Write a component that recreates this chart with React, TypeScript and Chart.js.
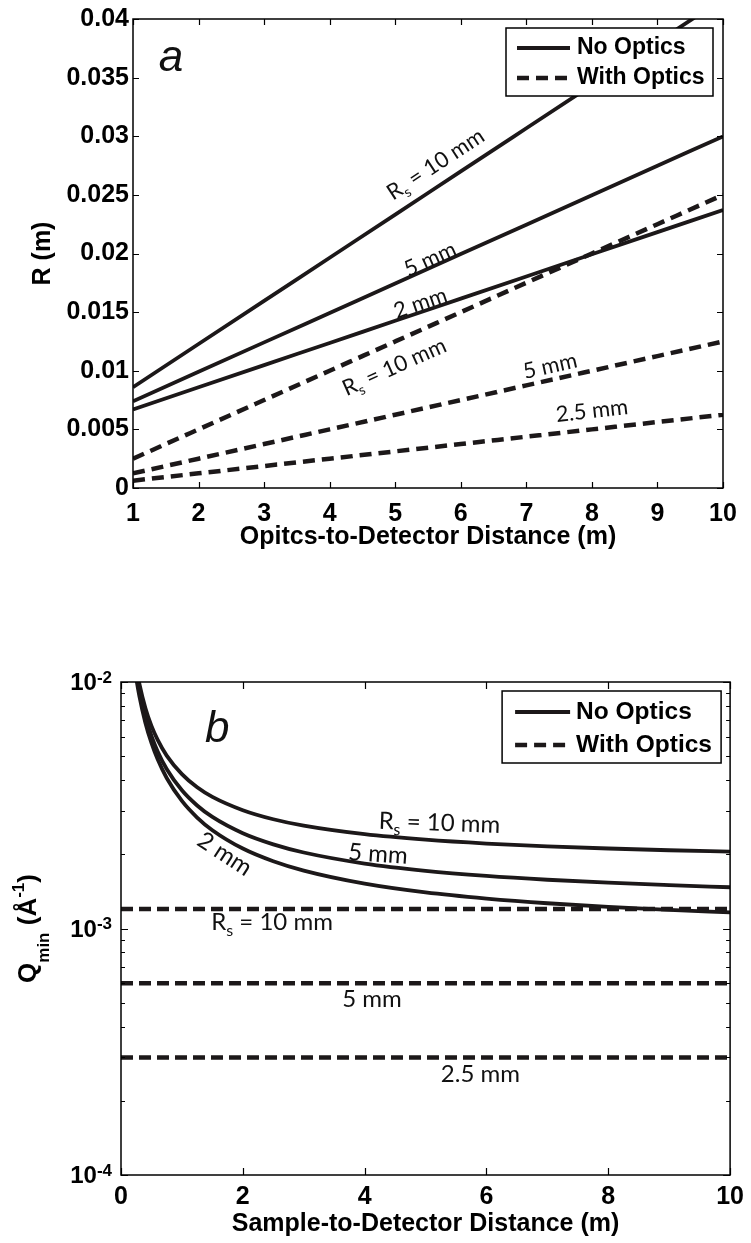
import React, { useEffect, useRef } from 'react';
import { Chart, registerables } from 'chart.js';

Chart.register(...registerables);

// ---------------- Panel a: R vs optics-to-detector distance ----------------
const aDistance = [1, 2, 3, 4, 5, 6, 7, 8, 9, 10];
const aNoOptics10 = [0.0086, 0.01228, 0.01596, 0.01964, 0.02332, 0.027, 0.03068, 0.03436, 0.03804, 0.04172];
const aNoOptics5 = [0.0074, 0.00991, 0.01242, 0.01493, 0.01744, 0.01995, 0.02246, 0.02497, 0.02748, 0.02999];
const aNoOptics2 = [0.0067, 0.00859, 0.01048, 0.01237, 0.01426, 0.01615, 0.01804, 0.01993, 0.02182, 0.02371];
const aOptics10 = [0.0025, 0.005, 0.0075, 0.01, 0.0125, 0.015, 0.0175, 0.02, 0.0225, 0.025];
const aOptics5 = [0.00125, 0.0025, 0.00375, 0.005, 0.00625, 0.0075, 0.00875, 0.01, 0.01125, 0.0125];
const aOptics25 = [0.000625, 0.00125, 0.001875, 0.0025, 0.003125, 0.00375, 0.004375, 0.005, 0.005625, 0.00625];
const aXTicks = [1, 2, 3, 4, 5, 6, 7, 8, 9, 10];
const aYTicks = [0, 0.005, 0.01, 0.015, 0.02, 0.025, 0.03, 0.035, 0.04];

// ---------------- Panel b: Qmin vs sample-to-detector distance ----------------
const bDistance = [0.2, 0.25, 0.3, 0.4, 0.5, 0.6, 0.75, 1, 1.25, 1.5, 2, 2.5, 3, 4, 5, 6, 7, 8, 9, 10];
const bNoOptics10 = [0.0139, 0.01148, 0.00987, 0.00785, 0.00664, 0.00584, 0.00503, 0.00423, 0.00374, 0.00342, 0.00302, 0.002775, 0.002614, 0.002413, 0.002292, 0.002211, 0.002154, 0.002111, 0.002077, 0.00205];
const bNoOptics5 = [0.01325, 0.01085, 0.00924, 0.00724, 0.00604, 0.00524, 0.00444, 0.003636, 0.003156, 0.002835, 0.002435, 0.002195, 0.002034, 0.001834, 0.001714, 0.001634, 0.001577, 0.001534, 0.0015, 0.00147];
const bNoOptics2 = [0.01275, 0.01038, 0.00881, 0.00684, 0.005656, 0.004868, 0.00408, 0.003292, 0.00282, 0.002505, 0.00211, 0.001874, 0.001717, 0.00152, 0.001401, 0.001323, 0.001266, 0.001224, 0.001191, 0.001162];
const bFlatDistance = [0, 10];
const bOptics10 = [0.0012, 0.0012];
const bOptics5 = [0.0006, 0.0006];
const bOptics25 = [0.0003, 0.0003];
const bXTicks = [0, 2, 4, 6, 8, 10];
const bYTicks = [1e-4, 1e-3, 1e-2];
const bYMinorMantissa = [2, 3, 4, 5, 6, 7, 8, 9];

const legendLabels = ['No Optics', 'With Optics'];

// ---------------- styles ----------------
const INK = '#1c1819';
const AX = "'Liberation Sans', Arial, Helvetica, sans-serif";
const NOTE = "Lato, 'Open Sans', 'Noto Sans', sans-serif";

type Part = { t: string; sub?: boolean; sup?: boolean };
type Note = { parts: Part[]; x: number; y: number; follow?: number; angle?: number; size: number };

const RS10: Part[] = [{ t: 'R' }, { t: 's', sub: true }, { t: ' = 10 mm' }];

const aNotes: Note[] = [
  { parts: RS10, x: 5.61, y: 0.02766, follow: 0, size: 22 },
  { parts: [{ t: '5 mm' }], x: 5.53, y: 0.01957, follow: 1, size: 22 },
  { parts: [{ t: '2 mm' }], x: 5.38, y: 0.01583, follow: 2, size: 22 },
  { parts: RS10, x: 4.98, y: 0.01038, follow: 3, size: 22 },
  { parts: [{ t: '5 mm' }], x: 7.36, y: 0.01047, follow: 4, size: 22 },
  { parts: [{ t: '2.5 mm' }], x: 8.0, y: 0.00664, follow: 5, size: 22 },
];

const bNotes: Note[] = [
  { parts: RS10, x: 5.23, y: 0.0027, angle: 2, size: 24 },
  { parts: [{ t: '5 mm' }], x: 4.22, y: 0.00202, angle: 4, size: 24 },
  { parts: [{ t: '2 mm' }], x: 1.71, y: 0.00202, angle: 33, size: 24 },
  { parts: RS10, x: 2.48, y: 0.00107, angle: 0, size: 24 },
  { parts: [{ t: '5 mm' }], x: 4.12, y: 0.000522, angle: 0, size: 24 },
  { parts: [{ t: '2.5 mm' }], x: 5.9, y: 0.000259, angle: 0, size: 24 },
];

function partSize(p: Part, size: number) {
  return p.sub || p.sup ? Math.round(size * 0.65) : size;
}
function richWidth(ctx: CanvasRenderingContext2D, parts: Part[], size: number, weight: string, fam: string) {
  let w = 0;
  for (const p of parts) {
    ctx.font = `${weight} ${partSize(p, size)}px ${fam}`;
    w += ctx.measureText(p.t).width;
  }
  return w;
}
function drawRich(
  ctx: CanvasRenderingContext2D, parts: Part[], x: number, y: number, size: number,
  weight: string, fam: string, subDy: number, supDy: number
) {
  let cx = x;
  ctx.textBaseline = 'alphabetic';
  ctx.textAlign = 'left';
  for (const p of parts) {
    ctx.font = `${weight} ${partSize(p, size)}px ${fam}`;
    const dy = p.sub ? size * subDy : p.sup ? -size * supDy : 0;
    ctx.fillText(p.t, cx, y + dy);
    cx += ctx.measureText(p.t).width;
  }
}

type LegendCfg = { w: number; h: number; dx: number; dy: number; rows: number[]; lx0: number; lx1: number; tx: number; size: number; dash: number[] };

type Decor = {
  notes: Note[];
  legend: LegendCfg;
  letter: { t: string; x: number; y: number };
  xTicks: number[];
  yTicks: number[];
  yMinor?: number[];
  tickLen: number;
  minorLen: number;
  logLabels?: boolean;
  qTitle?: boolean;
};

function decorPlugin(d: Decor) {
  return {
    id: 'decor',
    afterDraw(chart: any) {
      const { ctx, chartArea: a, scales } = chart;
      const xs = scales.x;
      const ys = scales.y;
      ctx.save();

      // inward tick marks
      ctx.strokeStyle = '#000';
      ctx.lineWidth = 1.2;
      ctx.beginPath();
      d.xTicks.forEach((v) => {
        const px = Math.round(xs.getPixelForValue(v)) + 0.5;
        ctx.moveTo(px, a.bottom); ctx.lineTo(px, a.bottom - d.tickLen);
        ctx.moveTo(px, a.top); ctx.lineTo(px, a.top + d.tickLen);
      });
      d.yTicks.forEach((v) => {
        const py = Math.round(ys.getPixelForValue(v)) + 0.5;
        ctx.moveTo(a.left, py); ctx.lineTo(a.left + d.tickLen, py);
        ctx.moveTo(a.right, py); ctx.lineTo(a.right - d.tickLen, py);
      });
      (d.yMinor || []).forEach((v) => {
        const py = Math.round(ys.getPixelForValue(v)) + 0.5;
        ctx.moveTo(a.left, py); ctx.lineTo(a.left + d.minorLen, py);
        ctx.moveTo(a.right, py); ctx.lineTo(a.right - d.minorLen, py);
      });
      ctx.stroke();

      // frame
      ctx.lineWidth = 1.5;
      ctx.strokeRect(a.left, a.top, a.right - a.left, a.bottom - a.top);

      // line annotations
      ctx.fillStyle = '#111';
      d.notes.forEach((n) => {
        let ang = ((n.angle ?? 0) * Math.PI) / 180;
        if (n.follow !== undefined) {
          const data = chart.data.datasets[n.follow].data;
          const p0 = data[0];
          const p1 = data[data.length - 1];
          ang = Math.atan2(
            ys.getPixelForValue(p1.y) - ys.getPixelForValue(p0.y),
            xs.getPixelForValue(p1.x) - xs.getPixelForValue(p0.x)
          );
        }
        const px = xs.getPixelForValue(n.x);
        const py = ys.getPixelForValue(n.y);
        ctx.save();
        ctx.translate(px, py);
        ctx.rotate(ang);
        const w = richWidth(ctx, n.parts, n.size, 'normal', NOTE);
        drawRich(ctx, n.parts, -w / 2, n.size * 0.36, n.size, 'normal', NOTE, 0.24, 0.4);
        ctx.restore();
      });

      // panel letter
      ctx.fillStyle = '#111';
      ctx.font = `italic 44px ${AX}`;
      ctx.textAlign = 'center';
      ctx.textBaseline = 'alphabetic';
      ctx.fillText(d.letter.t, xs.getPixelForValue(d.letter.x), ys.getPixelForValue(d.letter.y));

      // legend
      const L = d.legend;
      const left = a.right - L.dx - L.w;
      const top = a.top + L.dy;
      ctx.fillStyle = '#fff';
      ctx.fillRect(left, top, L.w, L.h);
      ctx.strokeStyle = '#000';
      ctx.lineWidth = 1.5;
      ctx.strokeRect(left, top, L.w, L.h);
      legendLabels.forEach((label, i) => {
        const ry = top + L.rows[i];
        ctx.strokeStyle = INK;
        ctx.lineWidth = i === 0 ? 3.8 : 4.5;
        ctx.setLineDash(i === 0 ? [] : L.dash);
        ctx.beginPath();
        ctx.moveTo(left + L.lx0, ry);
        ctx.lineTo(left + L.lx1, ry);
        ctx.stroke();
        ctx.setLineDash([]);
        ctx.fillStyle = '#000';
        ctx.font = `bold ${L.size}px ${AX}`;
        ctx.textAlign = 'left';
        ctx.textBaseline = 'middle';
        ctx.fillText(label, left + L.tx, ry);
      });

      // log tick labels 10^n
      if (d.logLabels) {
        ctx.fillStyle = '#000';
        d.yTicks.forEach((v) => {
          const py = ys.getPixelForValue(v) + 1.5;
          const exp = String(Math.round(Math.log10(v)));
          ctx.font = `bold 17px ${AX}`;
          ctx.textAlign = 'right';
          ctx.textBaseline = 'alphabetic';
          const right = a.left - 9;
          const ew = ctx.measureText(exp).width;
          ctx.fillText(exp, right, py - 1);
          ctx.font = `bold 24px ${AX}`;
          ctx.textBaseline = 'middle';
          ctx.fillText('10', right - ew, py);
        });
      }

      // rotated y title Q_min (Å^-1)
      if (d.qTitle) {
        const parts: Part[] = [{ t: 'Q' }, { t: 'min', sub: true }, { t: ' (Å' }, { t: '-1', sup: true }, { t: ')' }];
        const cy = (a.top + a.bottom) / 2;
        ctx.save();
        ctx.translate(36, cy);
        ctx.rotate(-Math.PI / 2);
        ctx.fillStyle = '#000';
        const w = richWidth(ctx, parts, 26, 'bold', AX);
        drawRich(ctx, parts, -w / 2, 0, 26, 'bold', AX, 0.5, 0.45);
        ctx.restore();
      }

      ctx.restore();
    },
  };
}

const pts = (xs: number[], ys: number[]) => xs.map((x, i) => ({ x, y: ys[i] }));

function lineSet(data: { x: number; y: number }[], dash: number[] | null) {
  return {
    data,
    borderColor: INK,
    backgroundColor: INK,
    borderWidth: dash ? 4.5 : 3.8,
    borderDash: dash || [],
    pointRadius: 0,
    fill: false,
    clip: 0,
    cubicInterpolationMode: 'monotone' as const,
  };
}

const tickFont = { family: AX, size: 25, weight: 'bold' as const };

export default function App() {
  const refA = useRef<HTMLCanvasElement>(null);
  const refB = useRef<HTMLCanvasElement>(null);

  useEffect(() => {
    const dashA = [12, 7];
    const dashB = [12, 6];

    const chartA = new Chart(refA.current as HTMLCanvasElement, {
      type: 'line',
      data: {
        datasets: [
          lineSet(pts(aDistance, aNoOptics10), null),
          lineSet(pts(aDistance, aNoOptics5), null),
          lineSet(pts(aDistance, aNoOptics2), null),
          lineSet(pts(aDistance, aOptics10), dashA),
          lineSet(pts(aDistance, aOptics5), dashA),
          lineSet(pts(aDistance, aOptics25), dashA),
        ] as any,
      },
      options: {
        animation: false,
        responsive: false,
        maintainAspectRatio: false,
        layout: { padding: { left: 0, right: 28, top: 18, bottom: 68 } },
        plugins: { legend: { display: false }, tooltip: { enabled: false } },
        scales: {
          x: {
            type: 'linear',
            min: 1,
            max: 10,
            afterBuildTicks: (s: any) => { s.ticks = aXTicks.map((v) => ({ value: v })); },
            afterFit: (s: any) => { s.height = 64; },
            ticks: { font: tickFont, color: '#000', padding: 11, autoSkip: false, maxRotation: 0 },
            grid: { display: false, drawTicks: false },
            border: { display: false },
            title: { display: true, text: 'Opitcs-to-Detector Distance (m)', font: tickFont, color: '#000', padding: 0 },
          },
          y: {
            type: 'linear',
            min: 0,
            max: 0.04,
            afterBuildTicks: (s: any) => { s.ticks = aYTicks.map((v) => ({ value: v })); },
            afterFit: (s: any) => { s.width = 133; },
            ticks: {
              font: tickFont, color: '#000', padding: 4, autoSkip: false,
              callback: (v: any) => String(Number(Number(v).toFixed(3))),
            },
            grid: { display: false, drawTicks: false },
            border: { display: false },
            title: { display: true, text: 'R (m)', font: tickFont, color: '#000', padding: { top: 28, bottom: 0 } },
          },
        },
      } as any,
      plugins: [
        decorPlugin({
          notes: aNotes,
          legend: { w: 207, h: 68, dx: 10, dy: 9, rows: [20, 50], lx0: 11, lx1: 64, tx: 71, size: 23, dash: [12, 7] },
          letter: { t: 'a', x: 1.58, y: 0.03557 },
          xTicks: aXTicks,
          yTicks: aYTicks,
          tickLen: 6,
          minorLen: 0,
        }),
      ],
    });

    const yMinor: number[] = [];
    for (let i = 0; i < bYTicks.length - 1; i++) {
      bYMinorMantissa.forEach((m) => yMinor.push(m * bYTicks[i]));
    }

    const chartB = new Chart(refB.current as HTMLCanvasElement, {
      type: 'line',
      data: {
        datasets: [
          lineSet(pts(bDistance, bNoOptics10), null),
          lineSet(pts(bDistance, bNoOptics5), null),
          lineSet(pts(bDistance, bNoOptics2), null),
          lineSet(pts(bFlatDistance, bOptics10), dashB),
          lineSet(pts(bFlatDistance, bOptics5), dashB),
          lineSet(pts(bFlatDistance, bOptics25), dashB),
        ] as any,
      },
      options: {
        animation: false,
        responsive: false,
        maintainAspectRatio: false,
        layout: { padding: { left: 0, right: 16, top: 62, bottom: 4 } },
        plugins: { legend: { display: false }, tooltip: { enabled: false } },
        scales: {
          x: {
            type: 'linear',
            min: 0,
            max: 10,
            afterBuildTicks: (s: any) => { s.ticks = bXTicks.map((v) => ({ value: v })); },
            afterFit: (s: any) => { s.height = 64; },
            ticks: { font: tickFont, color: '#000', padding: 7, autoSkip: false, maxRotation: 0 },
            grid: { display: false, drawTicks: false },
            border: { display: false },
            title: { display: true, text: 'Sample-to-Detector Distance (m)', font: tickFont, color: '#000', padding: 0 },
          },
          y: {
            type: 'logarithmic',
            min: 1e-4,
            max: 1e-2,
            afterBuildTicks: (s: any) => { s.ticks = bYTicks.map((v) => ({ value: v })); },
            afterFit: (s: any) => { s.width = 121; },
            ticks: { display: false },
            grid: { display: false, drawTicks: false },
            border: { display: false },
            title: { display: false },
          },
        },
      } as any,
      plugins: [
        decorPlugin({
          notes: bNotes,
          legend: { w: 219, h: 72, dx: 9, dy: 9, rows: [21, 54], lx0: 13, lx1: 68, tx: 74, size: 24.5, dash: [12, 7] },
          letter: { t: 'b', x: 1.58, y: 0.00571 },
          xTicks: bXTicks,
          yTicks: bYTicks,
          yMinor,
          tickLen: 7,
          minorLen: 4,
          logLabels: true,
          qTitle: true,
        }),
      ],
    });

    return () => {
      chartA.destroy();
      chartB.destroy();
    };
  }, []);

  return (
    <div style={{ position: 'absolute', left: 0, top: 0, width: 751, height: 1243, background: '#fff' }}>
      <canvas ref={refA} width={751} height={620} style={{ position: 'absolute', left: 0, top: 0, width: 751, height: 620 }} />
      <canvas ref={refB} width={751} height={623} style={{ position: 'absolute', left: 0, top: 620, width: 751, height: 623 }} />
    </div>
  );
}
